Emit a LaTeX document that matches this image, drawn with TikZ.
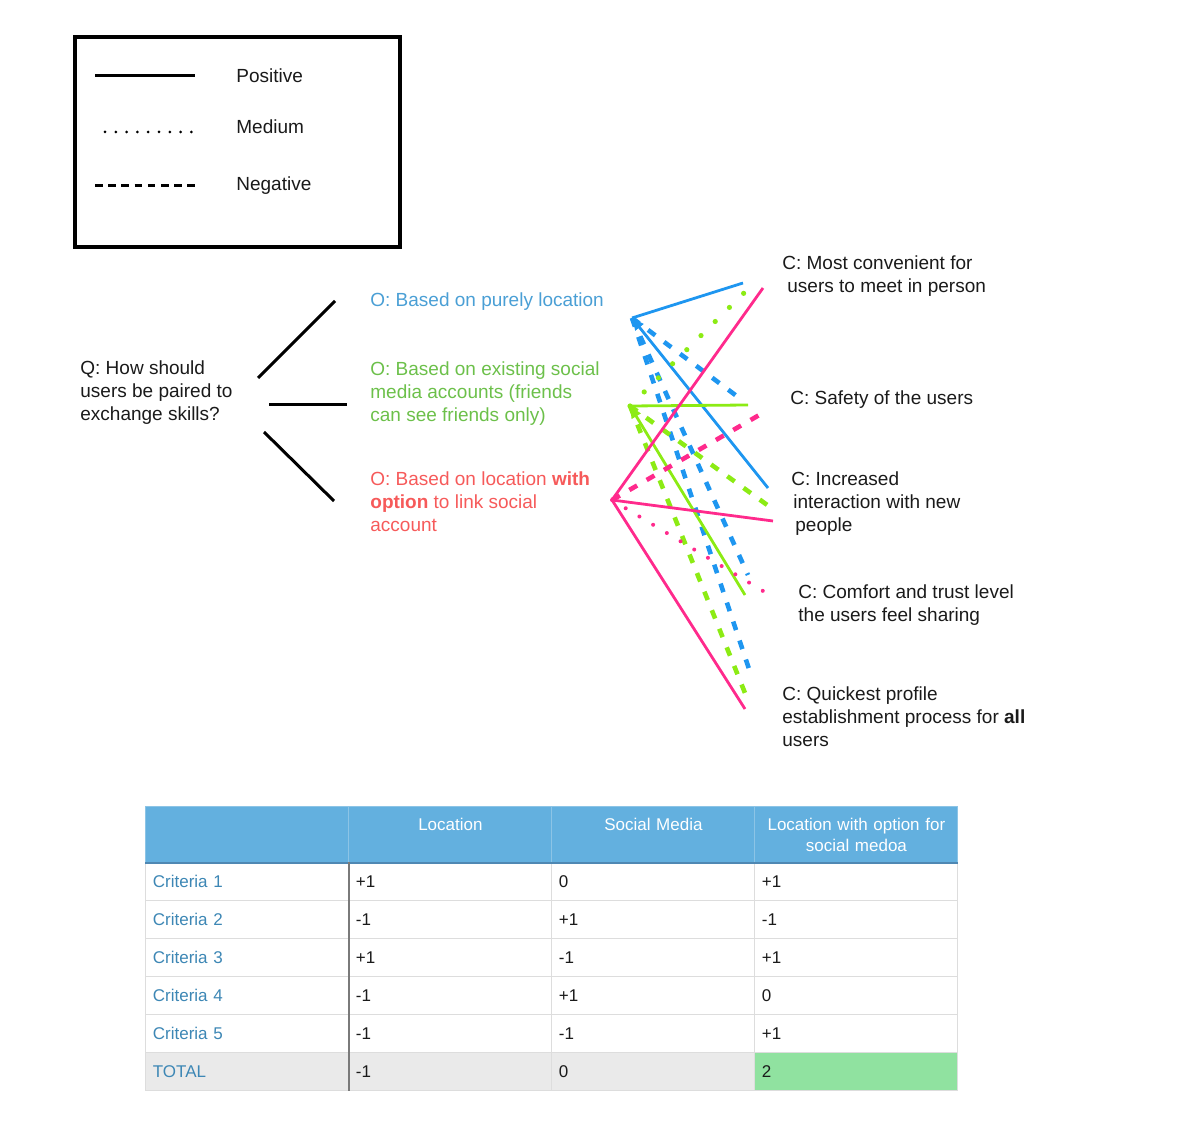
\documentclass[tikz,border=0pt]{standalone}
\usepackage{fontspec}
\setmainfont{Liberation Sans}
\usetikzlibrary{positioning, arrows.meta, matrix, shadows}
\definecolor{Ink}{HTML}{1A1A1A}
\definecolor{LocT}{HTML}{4A9FD5}
\definecolor{SocT}{HTML}{6CC04A}
\definecolor{MixT}{HTML}{F65A5A}
\definecolor{LocL}{HTML}{1E96F0}
\definecolor{SocL}{HTML}{8CEB14}
\definecolor{MixL}{HTML}{FF2A8C}
\definecolor{HdrBlue}{HTML}{63B0DF}
\definecolor{HdrLine}{HTML}{8CC4E6}
\definecolor{HdrRule}{HTML}{4F88B3}
\definecolor{LabBlue}{HTML}{3D87B5}
\definecolor{GridGray}{HTML}{DDDDDD}
\definecolor{ColRule}{HTML}{7A7A7A}
\definecolor{TotGray}{HTML}{EAEAEA}
\definecolor{TotGreen}{HTML}{90E2A0}
\tikzset{
  txt/.style={anchor=base west, align=left, inner sep=0pt,
              font=\fontsize{9.5}{11.5}\selectfont, text=Ink},
  keybox/.style={draw=black, line width=1.6pt, fill=white,
                 drop shadow={shadow xshift=0.8pt, shadow yshift=-0.8pt,
                              opacity=0.35, fill=black}},
  branch/.style={line width=1.5pt, draw=black},
  keypos/.style={line width=1.5pt},
  keymed/.style={line width=1.5pt, line cap=round, dash pattern=on 0pt off 5.4pt},
  keyneg/.style={line width=1.5pt, dash pattern=on 3.8pt off 2.8pt},
  goodline/.style={line width=1.4pt},
  midline/.style={line width=2.6pt, line cap=round, dash pattern=on 0pt off 10pt},
  badline/.style={line width=2.3pt, dash pattern=on 4.5pt off 5.5pt},
  backtip/.style={-{Triangle[length=6pt, width=5pt]}},
  tcell/.style={draw=GridGray, line width=0.5pt, fill=white, minimum height=19pt,
               text width=94.5pt, inner xsep=3.5pt, inner ysep=0pt, align=left,
               font=\fontsize{8.5}{10.5}\selectfont, text=Ink, anchor=center},
  thead/.style={fill=HdrBlue, draw=HdrLine, text=white, align=center,
              minimum height=28pt},
  rowlab/.style={text=LabBlue},
  scoretable/.style={matrix of nodes, nodes in empty cells, inner sep=0pt,
                column sep=-0.5pt, row sep=-0.5pt, nodes={tcell},
                row 1/.style={nodes={thead}},
                column 1/.style={nodes={rowlab}},
                row 7/.style={nodes={fill=TotGray}},
                row 7 column 4/.style={nodes={fill=TotGreen}}},
}

\begin{document}
\begin{tikzpicture}[x=0.5pt, y=-0.5pt]
  \useasboundingbox (0,0) rectangle (1178,1144);

  % ---- legend ----
  \node[keybox, minimum width=162.5pt, minimum height=105pt] (key) at (237.5,142) {};
  \coordinate (posA) at (95,76);  \coordinate (posB) at (195,76);
  \coordinate (medA) at (105,132); \coordinate (medB) at (192,132);
  \coordinate (negA) at (95,186); \coordinate (negB) at (197,186);
  \draw[keypos] (posA) -- (posB);
  \draw[keymed] (medA) -- (medB);
  \draw[keyneg] (negA) -- (negB);
  \node[txt] (kpos) at (236,83)  {Positive};
  \node[txt] (kmed) at (236,134) {Medium};
  \node[txt] (kneg) at (236,191) {Negative};

  % ---- question and options (base = last line) ----
  \node[txt] (q) at (80,421) {Q: How should\\users be paired to\\exchange skills?};
  \node[txt, text=LocT] (o1) at (370,307) {O: Based on purely location};
  \node[txt, text=SocT] (o2) at (370,422)
       {O: Based on existing social\\media accounts (friends\\can see friends only)};
  \node[txt, text=MixT] (o3) at (370,531)
       {O: Based on location \textbf{with}\\\textbf{option} to link social\\account};

  \coordinate (qa1) at (258,378); \coordinate (qb1) at (335,301);
  \coordinate (qa2) at (269,405); \coordinate (qb2) at (347,405);
  \coordinate (qa3) at (264,432); \coordinate (qb3) at (334,501);
  \draw[branch] (qa1) -- (qb1);
  \draw[branch] (qa2) -- (qb2);
  \draw[branch] (qa3) -- (qb3);

  % ---- criteria ----
  \node[txt] (c1) at (782,293) {C: Most convenient for\\\hspace*{2.5pt}users to meet in person};
  \node[txt] (c2) at (790,405) {C: Safety of the users};
  \node[txt] (c3) at (791,531) {C: Increased\\\hspace*{1pt}interaction with new\\\hspace*{2pt}people};
  \node[txt] (c4) at (798,621) {C: Comfort and trust level\\the users feel sharing};
  \node[txt] (c5) at (782,746) {C: Quickest profile\\establishment process for \textbf{all}\\users};

  % ---- ratings: location ----
  \coordinate (bo) at (632,318);
  \coordinate (b1) at (743,283); \coordinate (b2) at (738,397);
  \coordinate (b3) at (768,488); \coordinate (b4) at (748,575);
  \coordinate (b5) at (752,678);
  \draw[goodline, LocL] (bo) -- (b1);
  \draw[badline, LocL] (bo) -- (b2);
  \draw[goodline, LocL, backtip] (b3) -- (bo);
  \draw[badline, LocL] (bo) -- (b4);
  \draw[badline, LocL] (bo) -- (b5);

  % ---- ratings: social media ----
  \coordinate (go) at (630,406);
  \coordinate (g1) at (748,289); \coordinate (g2) at (748,405);
  \coordinate (g3) at (770,507); \coordinate (g4) at (745,595);
  \coordinate (g5) at (747,698);
  \draw[midline, SocL] (go) -- (g1);
  \draw[goodline, SocL] (go) -- (g2);
  \draw[badline, SocL] (go) -- (g3);
  \draw[goodline, SocL, backtip] (g4) -- (go);
  \draw[badline, SocL] (go) -- (g5);

  % ---- ratings: location with social option ----
  \coordinate (po) at (612,500);
  \coordinate (p1) at (763,288); \coordinate (p2) at (761,414);
  \coordinate (p3) at (773,521); \coordinate (p4) at (773,597);
  \coordinate (p5) at (745,709);
  \draw[goodline, MixL] (po) -- (p1);
  \draw[badline, MixL] (po) -- (p2);
  \draw[goodline, MixL] (po) -- (p3);
  \draw[midline, MixL, line width=2pt, dash pattern=on 0pt off 8pt] (po) -- (p4);
  \draw[goodline, MixL] (po) -- (p5);

  % ---- decision table ----
  \matrix (tbl) [scoretable, anchor=north west] at (145,806) {
    {} & {Location\\\mbox{}} & {Social Media\\\mbox{}} & {Location with option for\\social medoa} \\
    Criteria 1 & +1 & 0  & +1 \\
    Criteria 2 & -1 & +1 & -1 \\
    Criteria 3 & +1 & -1 & +1 \\
    Criteria 4 & -1 & +1 & 0  \\
    Criteria 5 & -1 & -1 & +1 \\
    TOTAL      & -1 & 0  & 2  \\
  };
  \draw[HdrRule, line width=1pt] (tbl-1-1.south west) -- (tbl-1-4.south east);
  \draw[ColRule, line width=1pt] (tbl-2-1.north east) -- (tbl-7-1.south east);
\end{tikzpicture}
\end{document}
